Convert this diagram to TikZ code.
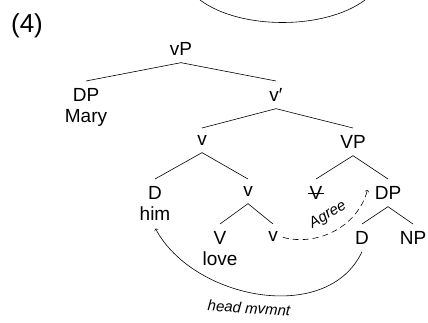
\documentclass[tikz,border=0pt]{standalone}
\usepackage{fontspec}
\setmainfont{Liberation Sans}

\tikzset{
    cat/.style={anchor=north, inner xsep=1pt, inner ysep=7pt, align=center,
        font=\fontsize{19}{21}\selectfont},
    lbl/.style={font=\fontsize{15}{17}\selectfont\itshape},
}

\begin{document}
\begin{tikzpicture}[x=1pt,y=1pt,line width=0.6pt]
                \useasboundingbox (0,0) rectangle (428,-322);
                % bottom of the arc left over from (3)
                \draw (200,0) .. controls (240,-30) and (325,-30) .. (365,0);
                \node[font=\fontsize{26}{28}\selectfont] (num) at (27,-26) {(4)};
                % the tree, row by row
                \node[cat] (vp) at (181,-35) {vP};
                \node[cat] (dpmary) at (86,-81) {DP\\Mary};
                \node[cat] (vbar) at (276,-81) {v′};
                \node[cat] (vhead) at (202,-128) {v};
                \node[cat] (vpbig) at (353,-128) {VP};
                \node[cat] (dhim) at (155,-179) {D\\him};
                \node[cat] (vcomp) at (248,-179) {v};
                \node[cat] (vtrace) at (316,-179) {V};
                \node[cat] (dpobj) at (388,-179) {DP};
                \node[cat] (vlove) at (220,-224) {V\\love};
                \node[cat] (vlow) at (273,-224) {v};
                \node[cat] (dobj) at (362,-224) {D};
                \node[cat] (np) at (413,-224) {NP};
                \foreach \p/\c in {vp/dpmary, vp/vbar, vbar/vhead, vbar/vpbig,
                    vhead/dhim, vhead/vcomp, vpbig/vtrace, vpbig/dpobj,
                    vcomp/vlove, vcomp/vlow, dpobj/dobj, dpobj/np} {
                    \draw (\p.south) -- (\c.north);
                }
                % struck-out trace
                \draw (vtrace.west) -- (vtrace.east);
                % Agree and head movement
                \draw[->, dash pattern=on 6pt off 4pt, shorten <=4pt]
                    (vlow.east) to[out=-15, in=-105] ([xshift=-6pt,yshift=3pt]dpobj.west);
                \node[lbl, rotate=31] (agree) at (328,-215) {Agree};
                \draw[->, shorten >=1pt]
                    (dobj.south) to[out=-115, in=-62, looseness=1] (dhim.south);
                \node[lbl, rotate=-4] (mvmnt) at (249,-308) {head mvmnt};
\end{tikzpicture}
\end{document}
